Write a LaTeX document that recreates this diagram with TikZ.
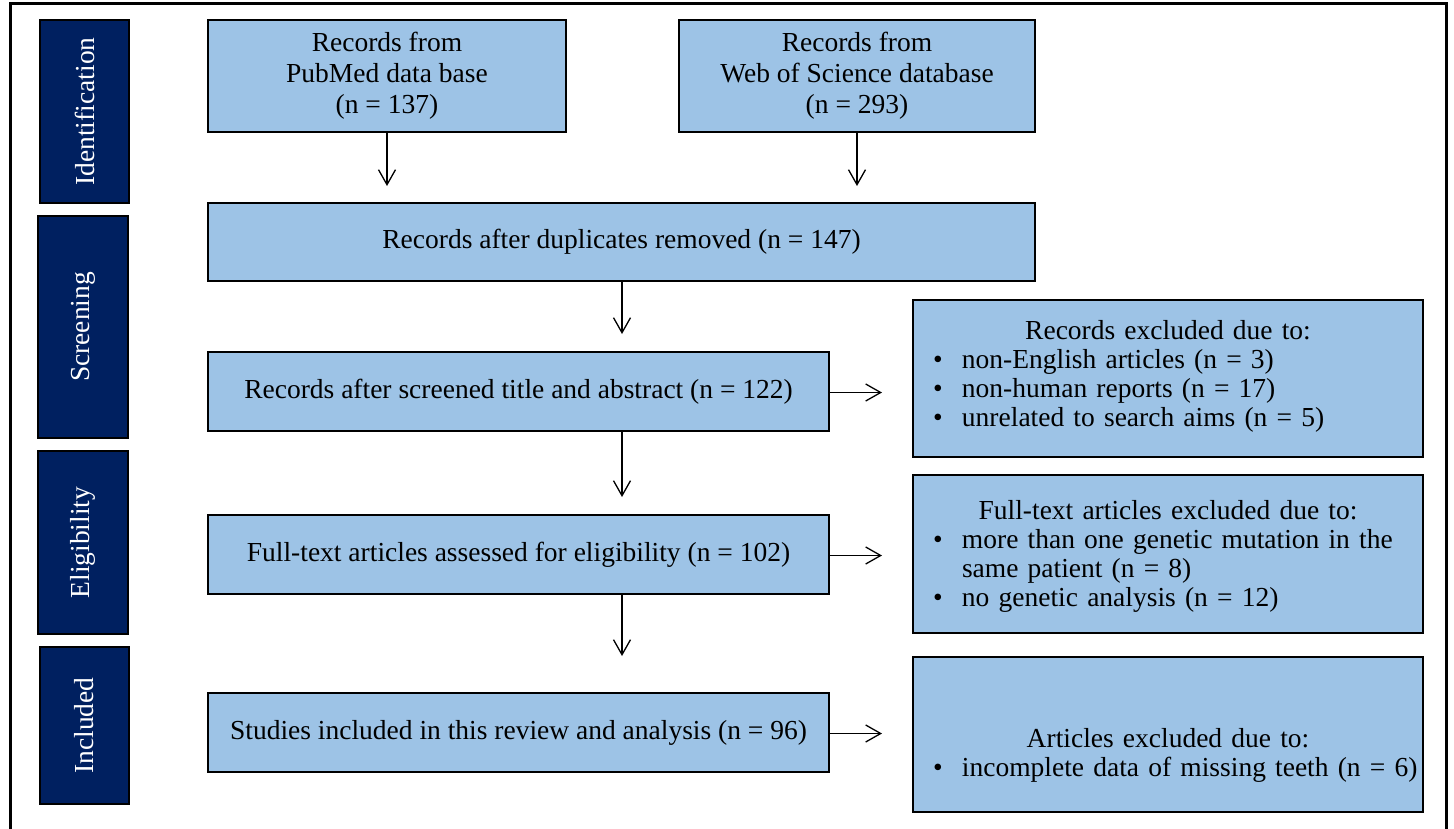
\documentclass[tikz,border=0pt]{standalone}
\usepackage{fontspec}
\setmainfont{Liberation Serif}
\usetikzlibrary{arrows.meta}
\definecolor{boxblue}{HTML}{9DC3E6}
\definecolor{navyblue}{HTML}{002060}
\newcommand{\bitem}[1]{\par\noindent\hangindent=44pt\hangafter=1\makebox[44pt][l]{\hspace{15pt}\textbullet}#1}
\begin{document}
\begin{tikzpicture}[x=1pt,y=-1pt,
  every node/.style={font=\fontsize{27.5}{31}\selectfont},
  box/.style={draw=black, line width=2.2pt, fill=boxblue, inner sep=0pt, align=center},
  side/.style={draw=black, line width=2pt, fill=navyblue, text=white, inner sep=0pt, rotate=90},
  listtext/.style={text width=500pt, inner sep=0pt, align=left, font=\fontsize{27.5}{29}\selectfont},
  arr/.style={-{Straight Barb[length=15pt,width=17pt]}, line width=1.3pt}]
\useasboundingbox (0,0) rectangle (1454,828);
% outer frame (open at the bottom)
\draw[line width=3pt] (10,830) -- (10,3.5) -- (1446.5,3.5) -- (1446.5,830);

% side labels
\node[side, minimum width=183pt, minimum height=89pt] (sid) at (84.5,111.5) {Identification};
\node[side, minimum width=222pt, minimum height=90pt] (sscr) at (83,327) {Screening};
\node[side, minimum width=183pt, minimum height=90pt] (selig) at (83,542.5) {Eligibility};
\node[side, minimum width=157pt, minimum height=89pt] (sinc) at (84.5,725.5) {Included};

% main boxes
\node[box, minimum width=358pt, minimum height=112pt] (pub) at (387,76) {Records from\\PubMed data base\\(n = 137)};
\node[box, minimum width=356pt, minimum height=112pt] (wos) at (857,76) {Records from\\Web of Science database\\(n = 293)};
\node[box, minimum width=827pt, minimum height=78pt] (dup) at (621.5,242) {\raisebox{-3pt}{Records after duplicates removed (n = 147)}};
\node[box, minimum width=621pt, minimum height=79pt] (scr) at (518.5,391.5) {\raisebox{-3pt}{Records after screened title and abstract (n = 122)}};
\node[box, minimum width=621pt, minimum height=79pt] (ft) at (518.5,554.5) {\raisebox{-3pt}{Full-text articles assessed for eligibility (n = 102)}};
\node[box, minimum width=621pt, minimum height=79pt] (inc) at (518.5,732.5) {\raisebox{-3pt}{Studies included in this review and analysis (n = 96)}};

% exclusion boxes
\node[box, minimum width=510pt, minimum height=157pt] (exa) at (1168,378.5) {};
\node[listtext] (exat) at (1168,376) {{\centering Records excluded due to:\par}\bitem{non-English articles (n = 3)}\bitem{non-human reports (n = 17)}\bitem{unrelated to search aims (n = 5)}};
\node[box, minimum width=510pt, minimum height=158pt] (exb) at (1168,554) {};
\node[listtext] (exbt) at (1168,556) {{\centering Full-text articles excluded due to:\par}\bitem{more than one genetic mutation in the\newline same patient (n = 8)}\bitem{no genetic analysis (n = 12)}};
\node[box, minimum width=510pt, minimum height=155pt] (exc) at (1168,734.5) {};
\node[listtext] (exct) at (1168,755) {{\centering Articles excluded due to:\par}\bitem{incomplete data of missing teeth (n = 6)}};

% free arrow ends
\coordinate (pubend) at (387,186);
\coordinate (wosend) at (857,186);
\coordinate (dupend) at (622,334);
\coordinate (scrend) at (622,497);
\coordinate (ftend) at (622,656);
\coordinate (scrr) at (882,392.5);
\coordinate (ftr) at (882,555.5);
\coordinate (incr) at (882,733.5);

% arrows
\draw[arr] (pub.south) -- (pubend);
\draw[arr] (wos.south) -- (wosend);
\draw[arr] (dup.south -| dupend) -- (dupend);
\draw[arr] (scr.south -| scrend) -- (scrend);
\draw[arr] (ft.south -| ftend) -- (ftend);
\draw[arr] (scr.east |- scrr) -- (scrr);
\draw[arr] (ft.east |- ftr) -- (ftr);
\draw[arr] (inc.east |- incr) -- (incr);
\end{tikzpicture}
\end{document}
